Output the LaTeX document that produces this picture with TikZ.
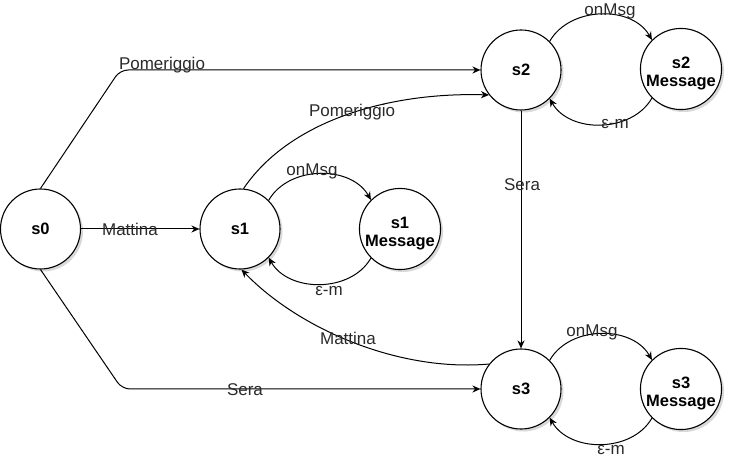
\documentclass[tikz,border=0pt]{standalone}
\usepackage{fontspec}
\setmainfont{Liberation Sans}
\usetikzlibrary{arrows.meta,shadows}
\definecolor{lbl}{HTML}{2A2A2A}
\begin{document}
\begin{tikzpicture}[x=1pt,y=-1pt,
  state/.style={circle,draw,fill=white,line width=1.1pt,minimum size=80pt,inner sep=0pt,align=center,
    font=\fontsize{16.5}{18}\selectfont\bfseries,
    drop shadow={shadow xshift=2.5pt,shadow yshift=-2.5pt,opacity=0.25,fill=black!60}},
  msgstate/.style={state,text height=38pt},
  edge/.style={line width=1pt,-{Stealth[length=8pt,width=7pt,inset=2.5pt]}},
  elabel/.style={font=\fontsize{17}{20}\selectfont,text=lbl,inner sep=0pt}]
\useasboundingbox (0,0) rectangle (732,473);
% states
\node[state] (s0) at (40.5,229) {s0};
\node[state] (s1) at (240,229) {s1};
\node[msgstate] (s1m) at (400,229) {s1\\Message};
\node[state] (s2) at (521,70) {s2};
\node[msgstate] (s2m) at (681,69) {s2\\Message};
\node[state] (s3) at (521,389) {s3};
\node[msgstate] (s3m) at (681,389) {s3\\Message};
% bend points
\coordinate (c1) at (120,70);
\coordinate (c2) at (122,389);
% edges
\draw[edge,rounded corners=8pt] (s0.north) -- (c1) -- (s2.west);
\draw[edge] (s0) -- (s1);
\draw[edge,rounded corners=8pt] (s0.south) -- (c2) -- (s3.west);
\draw[edge] (s2) -- (s3);
\draw[edge] (s1.85) .. controls (290,120) and (390,92) .. (s2.218);
\draw[edge] (s3.142) .. controls (400,372) and (300,330) .. (s1.272);
% loops
\draw[edge] (s1.45) .. controls +(20,-35) and +(-20,-35) .. (s1m.135);
\draw[edge] (s1m.225) .. controls +(-20,35) and +(20,35) .. (s1.315);
\draw[edge] (s2.45) .. controls +(20,-35) and +(-20,-35) .. (s2m.135);
\draw[edge] (s2m.225) .. controls +(-20,35) and +(20,35) .. (s2.315);
\draw[edge] (s3.45) .. controls +(20,-35) and +(-20,-35) .. (s3m.135);
\draw[edge] (s3m.225) .. controls +(-20,35) and +(20,35) .. (s3.315);
% labels
\node[elabel] (lp1) at (162,65) {Pomeriggio};
\node[elabel] (lm1) at (130,229) {Mattina};
\node[elabel] (ls1) at (245,390) {Sera};
\node[elabel] (lp2) at (352,112) {Pomeriggio};
\node[elabel] (ls2) at (522,185) {Sera};
\node[elabel] (lm2) at (348,338) {Mattina};
\node[elabel] (lo1) at (312,171) {onMsg};
\node[elabel] (le1) at (329,291) {ε-m};
\node[elabel] (lo2) at (610,11) {onMsg};
\node[elabel] (le2) at (615,124) {ε-m};
\node[elabel] (lo3) at (592,332) {onMsg};
\node[elabel] (le3) at (611,450) {ε-m};
\end{tikzpicture}
\end{document}
